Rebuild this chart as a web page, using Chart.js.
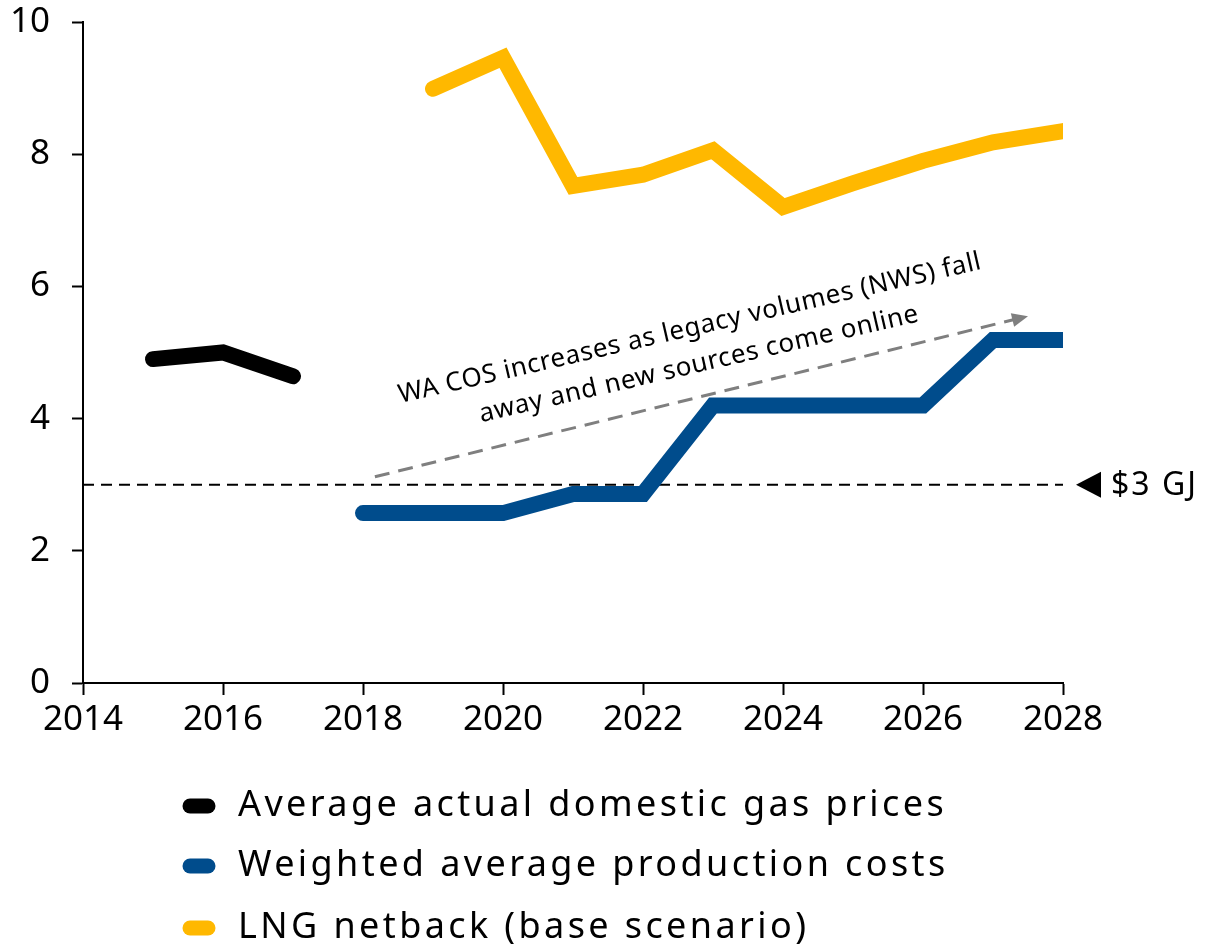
<!DOCTYPE html>
<html>
<head>
<meta charset="utf-8">
<script src="https://cdn.jsdelivr.net/npm/chart.js@4/dist/chart.umd.min.js"></script>
<style>
  html, body { margin: 0; padding: 0; background: #fff; }
  #wrap { width: 1207px; height: 948px; }
</style>
</head>
<body>
<div id="wrap"><canvas id="myChart" width="1207" height="948"></canvas></div>
<script>
'use strict'

const actualYears = [2015, 2016, 2017];
const actualPrices = [4.9, 5.0, 4.64];

const costYears = [2018, 2019, 2020, 2021, 2022, 2023, 2024, 2025, 2026, 2027, 2028];
const costValues = [2.57, 2.57, 2.57, 2.86, 2.86, 4.2, 4.2, 4.2, 4.2, 5.19, 5.19];

const netbackYears = [2019, 2020, 2021, 2022, 2023, 2024, 2025, 2026, 2027, 2028];
const netbackValues = [8.99, 9.46, 7.52, 7.69, 8.06, 7.2, 7.56, 7.9, 8.18, 8.35];

const seriesNames = [
    'Average actual domestic gas prices',
    'Weighted average production costs',
    'LNG netback (base scenario)'
];
const seriesColors = ['#000000', '#004C8C', '#FFB800'];

const xTicks = [2014, 2016, 2018, 2020, 2022, 2024, 2026, 2028];
const yTicks = [0, 2, 4, 6, 8, 10];

const thresholdValue = 3;
const thresholdLabel = '$3 GJ';
const arrowFrom = { x: 2018.17, y: 3.12 };
const arrowTo = { x: 2027.5, y: 5.55 };
const noteLines = ['WA COS increases as legacy volumes (NWS) fall', 'away and new sources come online'];
const notePos = [{ x: 2022.67, y: 5.36 }, { x: 2022.8, y: 4.82 }];

const FONT = "'Noto Sans', sans-serif";

function toPoints(xs, ys) {
    let pts = [];
    for (let i = 0; i < xs.length; i++) {
        pts.push({ x: xs[i], y: ys[i] });
    }
    return pts;
}

function lineSet(label, xs, ys, color) {
    return {
        label: label,
        data: toPoints(xs, ys),
        borderColor: color,
        backgroundColor: color,
        borderWidth: 16,
        borderCapStyle: 'round',
        borderJoinStyle: 'miter',
        pointRadius: 0,
        tension: 0,
        clip: { left: 30, top: 30, right: 0, bottom: 30 }
    };
}

// draws the note, arrow, $3 label and the legend
const extrasPlugin = {
    id: 'extras',
    afterDatasetsDraw(chart) {
        const ctx = chart.ctx;
        const xs = chart.scales.x;
        const ys = chart.scales.y;

        // dashed arrow
        let x1 = xs.getPixelForValue(arrowFrom.x), y1 = ys.getPixelForValue(arrowFrom.y);
        let x2 = xs.getPixelForValue(arrowTo.x), y2 = ys.getPixelForValue(arrowTo.y);
        let ang = Math.atan2(y2 - y1, x2 - x1);
        ctx.save();
        ctx.strokeStyle = '#7f7f7f';
        ctx.fillStyle = '#7f7f7f';
        ctx.lineWidth = 3;
        ctx.setLineDash([15, 9]);
        ctx.beginPath();
        ctx.moveTo(x1, y1);
        ctx.lineTo(x2 - 12 * Math.cos(ang), y2 - 12 * Math.sin(ang));
        ctx.stroke();
        ctx.setLineDash([]);
        ctx.beginPath();
        ctx.moveTo(x2, y2);
        ctx.lineTo(x2 - 16 * Math.cos(ang) + 7 * Math.sin(ang), y2 - 16 * Math.sin(ang) - 7 * Math.cos(ang));
        ctx.lineTo(x2 - 16 * Math.cos(ang) - 7 * Math.sin(ang), y2 - 16 * Math.sin(ang) + 7 * Math.cos(ang));
        ctx.closePath();
        ctx.fill();
        ctx.restore();

        // rotated note text
        ctx.save();
        ctx.fillStyle = '#000';
        ctx.font = '26px ' + FONT;
        ctx.letterSpacing = '0.6px';
        ctx.textAlign = 'center';
        ctx.textBaseline = 'middle';
        for (let i = 0; i < noteLines.length; i++) {
            ctx.save();
            ctx.translate(xs.getPixelForValue(notePos[i].x), ys.getPixelForValue(notePos[i].y));
            ctx.rotate(-13 * Math.PI / 180);
            ctx.fillText(noteLines[i], 0, 0);
            ctx.restore();
        }
        ctx.restore();

        // $3 GJ marker on the right
        let ty = ys.getPixelForValue(thresholdValue);
        let tx = chart.chartArea.right + 13;
        ctx.save();
        ctx.fillStyle = '#000';
        ctx.beginPath();
        ctx.moveTo(tx, ty);
        ctx.lineTo(tx + 25, ty - 13);
        ctx.lineTo(tx + 25, ty + 13);
        ctx.closePath();
        ctx.fill();
        ctx.font = '32px ' + FONT;
        ctx.letterSpacing = '2px';
        ctx.textAlign = 'left';
        ctx.textBaseline = 'middle';
        ctx.fillText(thresholdLabel, tx + 35, ty + 1);
        ctx.restore();

        // legend, one item per row
        const rowY = [806, 866, 928];
        ctx.save();
        ctx.font = '36px ' + FONT;
        ctx.letterSpacing = '3.4px';
        ctx.textAlign = 'left';
        ctx.textBaseline = 'middle';
        for (let i = 0; i < seriesNames.length; i++) {
            ctx.strokeStyle = seriesColors[i];
            ctx.lineWidth = 15;
            ctx.lineCap = 'round';
            ctx.beginPath();
            ctx.moveTo(190, rowY[i]);
            ctx.lineTo(208, rowY[i]);
            ctx.stroke();
            ctx.fillStyle = '#000';
            ctx.fillText(seriesNames[i], 238, rowY[i]);
        }
        ctx.restore();
    }
};

const ctx = document.getElementById('myChart').getContext('2d');
const myChart = new Chart(ctx, {
    type: 'line',
    data: {
        datasets: [
            {
                label: 'threshold',
                data: [{ x: 2014, y: thresholdValue }, { x: 2028, y: thresholdValue }],
                borderColor: '#000',
                borderWidth: 2,
                borderDash: [11, 7],
                pointRadius: 0,
                order: 5
            },
            lineSet(seriesNames[0], actualYears, actualPrices, seriesColors[0]),
            lineSet(seriesNames[1], costYears, costValues, seriesColors[1]),
            lineSet(seriesNames[2], netbackYears, netbackValues, seriesColors[2])
        ]
    },
    options: {
        responsive: false,
        animation: false,
        layout: { padding: { left: 0, top: 22, right: 144, bottom: 180 } },
        plugins: { legend: { display: false }, tooltip: { enabled: false } },
        scales: {
            x: {
                type: 'linear',
                min: 2014,
                max: 2028,
                afterBuildTicks: (scale) => { scale.ticks = xTicks.map(v => ({ value: v })); },
                afterFit: (scale) => { scale.height = 85; scale.paddingLeft = 0; scale.paddingRight = 0; },
                ticks: {
                    color: '#000',
                    font: { family: FONT, size: 35 },
                    padding: 4,
                    maxRotation: 0,
                    callback: (v) => String(v)
                },
                grid: { drawOnChartArea: false, drawTicks: true, tickLength: 12, tickColor: '#000', tickWidth: 2 },
                border: { display: true, color: '#000', width: 2 }
            },
            y: {
                min: 0,
                max: 10,
                afterBuildTicks: (scale) => { scale.ticks = yTicks.map(v => ({ value: v })); },
                afterFit: (scale) => { scale.width = 83; scale.paddingTop = 0; scale.paddingBottom = 0; },
                ticks: {
                    color: '#000',
                    font: { family: FONT, size: 35 },
                    padding: 22
                },
                grid: { drawOnChartArea: false, drawTicks: true, tickLength: 11, tickColor: '#000', tickWidth: 2 },
                border: { display: true, color: '#000', width: 2 }
            }
        }
    },
    plugins: [extrasPlugin]
});
</script>
</body>
</html>
